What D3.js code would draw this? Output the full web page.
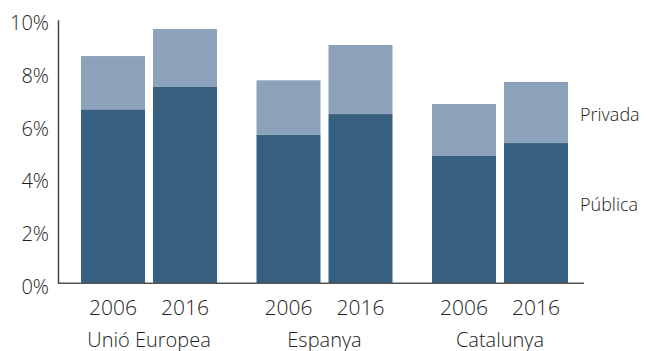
<!DOCTYPE html>
<html>
<head>
<meta charset="utf-8">
<script src="https://cdn.jsdelivr.net/npm/d3@7/dist/d3.min.js"></script>
<style>
  html, body { margin: 0; padding: 0; background: #fff; }
  svg { display: block; }
  text { font-family: "Open Sans", Lato, sans-serif; font-weight: 300; fill: #222; font-size: 20px; }
</style>
</head>
<body>
<svg id="chart" width="647" height="351"></svg>
<script>
// Despesa en educació (% del PIB), pública i privada
const regions = ["Unió Europea", "Espanya", "Catalunya"];
const years = ["2006", "2016"];
const publica = [6.6, 7.45, 5.63, 6.42, 4.83, 5.32];
const privada = [2.02, 2.2, 2.07, 2.62, 1.97, 2.32];
const yTicks = [0, 2, 4, 6, 8, 10];
const seriesNames = ["Pública", "Privada"];
const colors = ["#365f80", "#8ba2ba"];

const svg = d3.select("#chart");
const axisLeft = 58, axisRight = 584;

const y = d3.scaleLinear().domain([0, 10]).range([283.3, 19.7]);

const x0 = d3.scaleBand().domain(regions).range([81, 568])
  .paddingInner(0.225).paddingOuter(0);
const x1 = d3.scaleBand().domain(years).range([0, x0.bandwidth()])
  .paddingInner(0.111).paddingOuter(0);

const rows = [];
regions.forEach((r, i) => years.forEach((yr, j) => {
  const k = i * years.length + j;
  rows.push({ region: r, year: yr, "Pública": publica[k], "Privada": privada[k] });
}));

const stack = d3.stack().keys(seriesNames)(rows);

svg.append("g").selectAll("g").data(stack).join("g")
  .attr("fill", (d, i) => colors[i])
  .selectAll("rect").data(d => d).join("rect")
  .attr("x", d => x0(d.data.region) + x1(d.data.year))
  .attr("width", x1.bandwidth())
  .attr("y", d => y(d[1]))
  .attr("height", d => y(d[0]) - y(d[1]));

// axes
const gy = svg.append("g").attr("transform", `translate(${axisLeft},0)`)
  .call(d3.axisLeft(y).tickValues(yTicks).tickSize(0).tickPadding(9)
    .tickFormat(d => d + "%"));
gy.select(".domain").attr("stroke", "#444").attr("stroke-width", 1.5);
gy.selectAll("text").attr("dy", "0.5em");

svg.append("line")
  .attr("x1", axisLeft).attr("x2", axisRight)
  .attr("y1", y(0)).attr("y2", y(0))
  .attr("stroke", "#555").attr("stroke-width", 1.5);

// year labels
svg.append("g").selectAll("text").data(rows).join("text")
  .attr("x", d => x0(d.region) + x1(d.year) + x1.bandwidth() / 2)
  .attr("y", 315)
  .attr("text-anchor", "middle")
  .style("font-size", "21px")
  .text(d => d.year);

// region labels
svg.append("g").selectAll("text").data(regions).join("text")
  .attr("x", d => x0(d) + x0.bandwidth() / 2)
  .attr("y", 346.5)
  .attr("text-anchor", "middle")
  .text(d => d);

// series labels beside the last stack
svg.append("g").selectAll("text").data(seriesNames).join("text")
  .attr("x", 580)
  .attr("y", (d, i) => i === 0 ? 210.5 : 120.5)
  .style("font-size", "18px")
  .text(d => d);
</script>
</body>
</html>
